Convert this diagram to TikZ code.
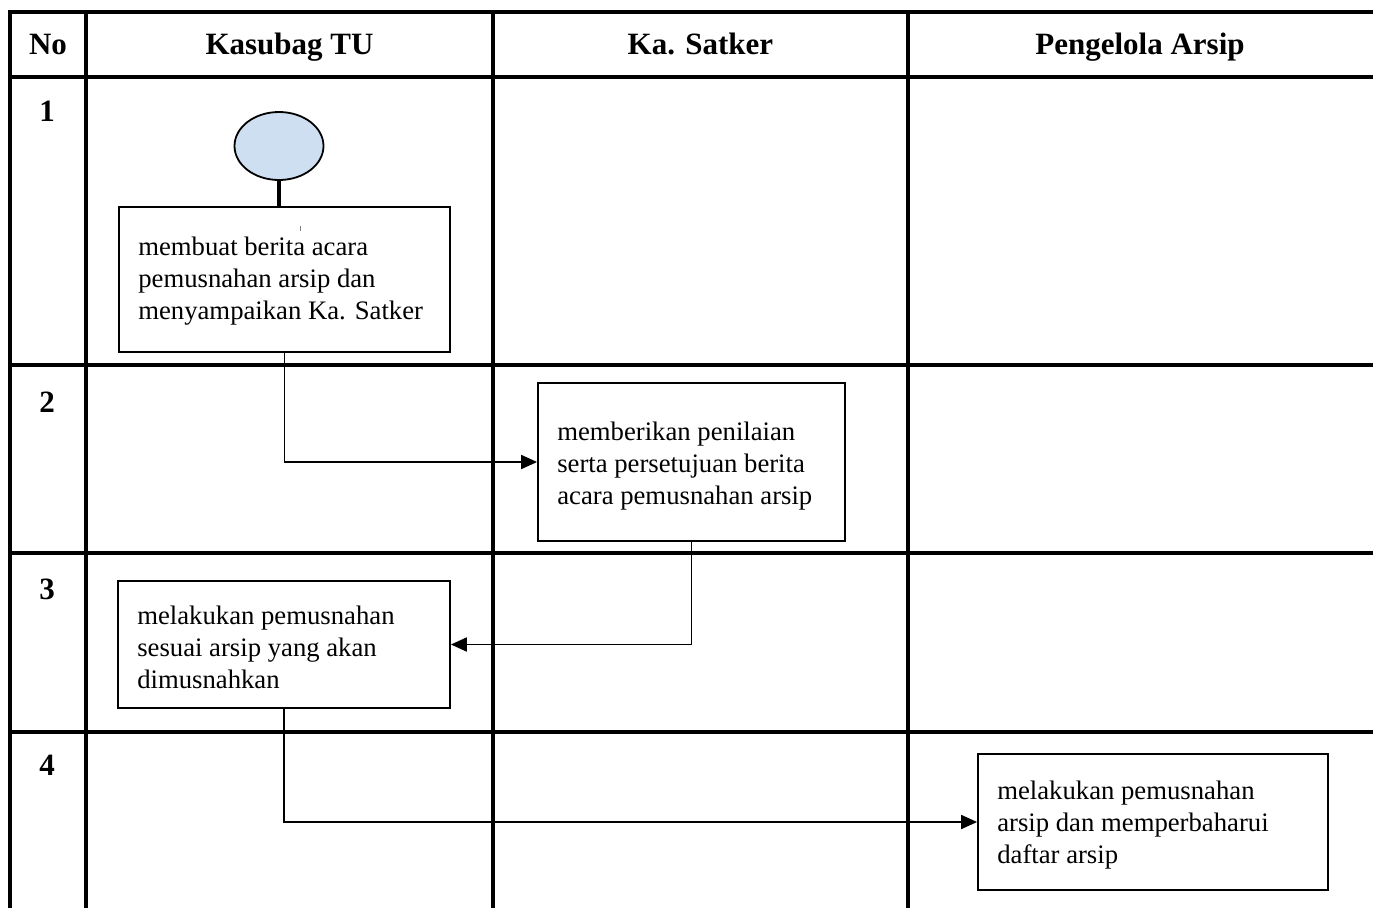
\documentclass[tikz,border=0pt]{standalone}
\usepackage{fontspec}
\setmainfont{Liberation Serif}
\usetikzlibrary{calc}
\usetikzlibrary{shapes.geometric}
\usetikzlibrary{arrows.meta}
\definecolor{startblue}{RGB}{207,223,242}
\tikzset{
  grid/.style={line width=3.5pt},
  box/.style={draw,line width=1.8pt,inner sep=0pt},
  boxtext/.style={anchor=west,align=left,inner sep=0pt,font=\fontsize{26.7}{32}\selectfont},
  head/.style={font=\bfseries\fontsize{31}{36}\selectfont,text height=21pt,text depth=7pt,inner sep=0pt},
  flow/.style={line width=1.9pt,-{Triangle[length=16pt,width=14pt]}}
}
\begin{document}
\begin{tikzpicture}[x=1pt,y=-1pt]
  \useasboundingbox (0,0) rectangle (1373,908);
  \pgfmathsetmacro{\pad}{20}

  \foreach \x in {10,86,493,908}{
    \draw[grid] (\x,12) -- (\x,908);
  }
  \foreach \y in {12,77,365,553,732}{
    \draw[grid] (8.25,\y) -- (1373,\y);
  }

  \node[head] (hno) at (48,47) {No};
  \node[head] (hkasubag) at (289.5,47) {Kasubag TU};
  \node[head] (hsatker) at (700.5,47) {Ka. Satker};
  \node[head] (harsip) at (1140,47) {Pengelola Arsip};

  \node[head] (n1) at (47,114) {1};
  \node[head] (n2) at (47,405) {2};
  \node[head] (n3) at (47,592) {3};
  \node[head] (n4) at (47,768) {4};

  \node[ellipse,draw,line width=1.8pt,fill=startblue,minimum width=89pt,minimum height=68pt,inner sep=0pt] (start) at (279,146) {};

  \node[box,minimum width=331pt,minimum height=145pt] (b1) at (284.5,279.5) {};
  \node[boxtext] (t1) at ($(b1.west)+(\pad,2)$) {membuat berita acara\\pemusnahan arsip dan\\menyampaikan Ka. Satker};
  \draw[gray,line width=0.8pt] (300,226) -- (300,231);

  \node[box,minimum width=307pt,minimum height=158pt] (b2) at (691.5,462) {};
  \node[boxtext] (t2) at ($(b2.west)+(\pad,4)$) {memberikan penilaian\\serta persetujuan berita\\acara pemusnahan arsip};

  \node[box,minimum width=332pt,minimum height=127pt] (b3) at (284,644.5) {};
  \node[boxtext] (t3) at ($(b3.west)+(\pad,3)$) {melakukan pemusnahan\\sesuai arsip yang akan\\dimusnahkan};

  \node[box,minimum width=350pt,minimum height=136pt] (b4) at (1153,822) {};
  \node[boxtext] (t4) at ($(b4.west)+(\pad,3)$) {melakukan pemusnahan\\arsip dan memperbaharui\\daftar arsip};

  \draw[line width=3.5pt] (start.south) -- (start.south |- b1.north);
  \draw[flow] (b1.south) |- (b2.west);
  \draw[flow] (b2.south) |- (b3.east);
  \draw[flow] (b3.south) |- (b4.west);

\end{tikzpicture}
\end{document}
